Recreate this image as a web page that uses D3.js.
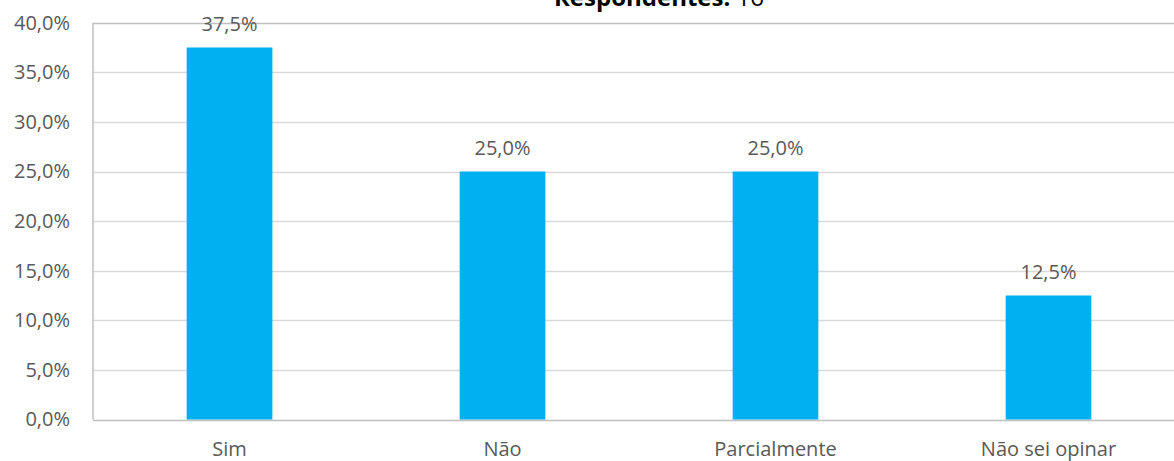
<!DOCTYPE html>
<html>
<head>
<meta charset="utf-8">
<script src="https://cdn.jsdelivr.net/npm/d3@7"></script>
<style>
  body { margin: 0; background: #fff; }
  text { font-family: "Open Sans", sans-serif; fill: #595959; }
</style>
</head>
<body>
<svg id="chart" width="1174" height="461"></svg>
<script>
// chart data
var categories = ["Sim", "Não", "Parcialmente", "Não sei opinar"];
var percents = [37.5, 25.0, 25.0, 12.5];
var yTicks = [0, 5, 10, 15, 20, 25, 30, 35, 40];
var respondents = 16;

var svg = d3.select("#chart");
const width = +svg.attr("width");
const height = +svg.attr("height");

// plot area edges (right edge runs past the window like the original)
const plotLeft = 93;
const plotTop = 22.7;
const plotBottom = 419.5;
const step = 273;
const labelSize = "20px";

var fmt = (v) => v.toFixed(1).replace(".", ",") + "%";

var xScale = d3.scaleBand()
  .domain(categories)
  .range([plotLeft, plotLeft + step * categories.length])
  .paddingInner(0.686)
  .paddingOuter(0.343);

var yScale = d3.scaleLinear()
  .domain([0, 40])
  .range([plotBottom, plotTop]);

// gridlines
svg.append("g")
  .selectAll("line")
  .data(yTicks)
  .enter()
  .append("line")
  .attr("x1", plotLeft)
  .attr("x2", width)
  .attr("y1", d => Math.round(yScale(d)) + 0.5)
  .attr("y2", d => Math.round(yScale(d)) + 0.5)
  .style("stroke", d => (d === 0 || d === 40) ? "#bfbfbf" : "#d9d9d9")
  .style("stroke-width", 1.5);

// left axis line
svg.append("line")
  .attr("x1", plotLeft).attr("x2", plotLeft)
  .attr("y1", yScale(40)).attr("y2", yScale(0))
  .style("stroke", "#bfbfbf")
  .style("stroke-width", 1.5);

// y-axis labels
var leftAxis = d3.axisLeft(yScale).tickValues(yTicks).tickFormat(fmt).tickSize(0).tickPadding(23);
var yAxisG = svg.append("g")
  .attr("transform", "translate(" + plotLeft + ",0)")
  .call(leftAxis);
yAxisG.select(".domain").remove();
yAxisG.selectAll("text")
  .style("font-family", "'Open Sans', sans-serif")
  .style("font-size", labelSize)
  .style("fill", "#595959");

// bars
svg.selectAll("rect.bar")
  .data(percents)
  .enter()
  .append("rect")
  .attr("class", "bar")
  .attr("x", (d, i) => xScale(categories[i]))
  .attr("width", xScale.bandwidth())
  .attr("y", d => yScale(d))
  .attr("height", d => yScale(0) - yScale(d))
  .style("fill", "#00b0f0");

// value labels
svg.selectAll("text.value")
  .data(percents)
  .enter()
  .append("text")
  .attr("class", "value")
  .attr("x", (d, i) => xScale(categories[i]) + xScale.bandwidth() / 2)
  .attr("y", d => yScale(d) - 17)
  .attr("text-anchor", "middle")
  .style("font-size", labelSize)
  .text(fmt);

// category labels
var bottomAxis = d3.axisBottom(xScale).tickSize(0).tickPadding(0);
var xAxisG = svg.append("g")
  .attr("transform", "translate(0," + plotBottom + ")")
  .call(bottomAxis);
xAxisG.select(".domain").remove();
xAxisG.selectAll("text")
  .attr("dy", null)
  .attr("y", 36)
  .style("font-family", "'Open Sans', sans-serif")
  .style("font-size", labelSize)
  .style("fill", "#595959");

// title, cut off at the top like the original
var title = svg.append("text")
  .attr("x", 659)
  .attr("y", 6)
  .attr("text-anchor", "middle")
  .style("font-size", "24px")
  .style("fill", "#000");
title.append("tspan").style("font-weight", "bold").text("Respondentes:");
title.append("tspan").text(" " + respondents);
</script>
</body>
</html>
